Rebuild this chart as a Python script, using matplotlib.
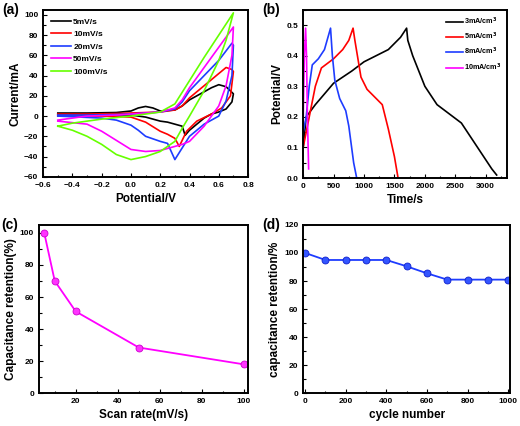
import matplotlib
matplotlib.use("Agg")
import matplotlib.pyplot as plt
from matplotlib.ticker import MultipleLocator

plt.rcParams['font.family'] = ['Liberation Sans', 'DejaVu Sans']
plt.rcParams['font.weight'] = 'bold'

# (a) CV curves: closed loops, forward then reverse sweep
cv_labels = ['5mV/s', '10mV/s', '20mV/s', '50mV/s', '100mV/s']
cv_colors = ['black', '#ff0000', '#1e3cff', '#ff00ff', '#66ff00']
cv_v = [
    [-0.5, -0.3, -0.1, 0.0, 0.05, 0.1, 0.15, 0.2, 0.3, 0.35, 0.4, 0.45, 0.5, 0.55, 0.6, 0.65, 0.7,
     0.69, 0.65, 0.6, 0.55, 0.5, 0.45, 0.4, 0.37, 0.35, 0.3, 0.25, 0.2, 0.1, 0.0, -0.2, -0.5],
    [-0.5, -0.3, -0.1, 0.0, 0.1, 0.2, 0.3, 0.35, 0.4, 0.5, 0.6, 0.65, 0.69, 0.7,
     0.68, 0.62, 0.55, 0.45, 0.38, 0.33, 0.3, 0.25, 0.2, 0.1, 0.0, -0.2, -0.5],
    [-0.5, -0.3, -0.1, 0.0, 0.1, 0.2, 0.3, 0.35, 0.4, 0.5, 0.6, 0.69, 0.7,
     0.69, 0.65, 0.6, 0.5, 0.4, 0.3, 0.25, 0.2, 0.1, 0.05, 0.0, -0.1, -0.2, -0.5],
    [-0.5, -0.3, -0.1, 0.0, 0.1, 0.2, 0.3, 0.35, 0.4, 0.5, 0.6, 0.7,
     0.69, 0.65, 0.6, 0.5, 0.4, 0.35, 0.3, 0.2, 0.1, 0.0, -0.1, -0.2, -0.3, -0.5],
    [-0.5, -0.4, -0.2, 0.0, 0.2, 0.3, 0.4, 0.5, 0.6, 0.7,
     0.65, 0.6, 0.5, 0.4, 0.35, 0.3, 0.2, 0.1, 0.0, -0.1, -0.2, -0.3, -0.4, -0.5],
]
cv_i = [
    [3, 3, 3.5, 5, 8, 9.5, 8, 5, 6, 10, 16, 20, 24, 28, 31, 29, 22,
     14, 7, 4, 2, -2, -8, -14, -19, -10, -8, -6, -5, -1, 1, 1.5, 1.5],
    [2, 2, 2.5, 3, 3.5, 4, 6, 10, 18, 30, 42, 48, 46, 44,
     20, 8, 2, -5, -15, -30, -22, -18, -15, -6, -1, 0, 0],
    [1, 1, 1.5, 2, 3, 4, 7, 14, 25, 40, 55, 72, 70,
     40, 15, 0, -8, -20, -43, -27, -25, -20, -14, -9, -4, -2, 0],
    [-4, 0, 1, 2, 3, 4, 8, 16, 28, 48, 68, 88,
     60, 30, 10, -10, -25, -28, -30, -34, -35, -33, -24, -15, -8, -5],
    [-10, -7, -3, 0, 4, 12, 35, 58, 80, 102,
     75, 55, 25, 0, -12, -25, -35, -40, -43, -38, -28, -20, -14, -10],
]

# (b) GCD curves
gcd_labels = ['3mA/cm$^3$', '5mA/cm$^3$', '8mA/cm$^3$', '10mA/cm$^3$']
gcd_colors = ['black', '#ff0000', '#1e3cff', '#ff00ff']
gcd_t = [
    [0, 50, 200, 500, 800, 1000, 1200, 1400, 1600, 1700, 1720, 1800, 2000, 2200, 2400, 2600, 2700, 2900, 3100, 3180],
    [0, 100, 200, 300, 500, 650, 750, 820, 850, 950, 1050, 1150, 1300, 1400, 1500, 1560],
    [0, 50, 100, 150, 250, 350, 450, 480, 520, 600, 700, 750, 830, 880],
    [0, 10, 20, 40, 55, 70, 90],
]
gcd_v = [
    [0.1, 0.2, 0.24, 0.31, 0.35, 0.38, 0.4, 0.42, 0.46, 0.49, 0.45, 0.4, 0.3, 0.24, 0.21, 0.18, 0.15, 0.09, 0.03, 0.01],
    [0.1, 0.2, 0.3, 0.36, 0.39, 0.42, 0.45, 0.49, 0.45, 0.33, 0.29, 0.27, 0.24, 0.16, 0.07, 0.0],
    [0.15, 0.2, 0.3, 0.37, 0.39, 0.42, 0.49, 0.4, 0.32, 0.26, 0.22, 0.17, 0.05, 0.0],
    [0.18, 0.3, 0.4, 0.49, 0.4, 0.2, 0.03],
]

# (c) rate capability
scan_rate = [5, 10, 20, 50, 100]
retention_rate = [100, 70, 51, 28.5, 18]

# (d) cycling
cycles = [0, 100, 200, 300, 400, 500, 600, 700, 800, 900, 1000]
retention_cyc = [100, 95, 95, 95, 95, 90.5, 85.5, 81, 81, 81, 81]

fig = plt.figure(figsize=(5.2, 4.26), dpi=100)
ax_a = fig.add_axes([0.083, 0.585, 0.394, 0.392])
ax_b = fig.add_axes([0.583, 0.582, 0.392, 0.395])
ax_c = fig.add_axes([0.075, 0.077, 0.402, 0.395])
ax_d = fig.add_axes([0.583, 0.077, 0.398, 0.395])


def style(ax, xlabel, ylabel, tag, tag_x):
    for s in ax.spines.values():
        s.set_linewidth(1.4)
    ax.tick_params(which='both', direction='in', labelsize=6, width=0.8)
    ax.tick_params(which='major', length=3)
    ax.tick_params(which='minor', length=1.8)
    ax.set_xlabel(xlabel, fontsize=8.5, fontweight='bold', labelpad=3)
    ax.set_ylabel(ylabel, fontsize=8.5, fontweight='bold', labelpad=2)
    ax.text(tag_x, 1.0, tag, transform=ax.transAxes, fontsize=10, fontweight='bold',
            va='center', ha='left')


for v, i, c, lab in zip(cv_v, cv_i, cv_colors, cv_labels):
    ax_a.plot(v, i, color=c, lw=1.2, label=lab)
ax_a.set_xlim(-0.6, 0.8)
ax_a.set_ylim(-60, 105)
ax_a.xaxis.set_major_locator(MultipleLocator(0.2))
ax_a.xaxis.set_minor_locator(MultipleLocator(0.1))
ax_a.yaxis.set_major_locator(MultipleLocator(20))
ax_a.yaxis.set_minor_locator(MultipleLocator(10))
ax_a.legend(loc='upper left', frameon=False, fontsize=6, handlelength=2.4,
            labelspacing=0.55, borderaxespad=0.6, handletextpad=0.2)
style(ax_a, 'Potential/V', 'Current/mA', '(a)', -0.2)

for t, v, c, lab in zip(gcd_t, gcd_v, gcd_colors, gcd_labels):
    ax_b.plot(t, v, color=c, lw=1.2, label=lab)
ax_b.set_xlim(0, 3350)
ax_b.set_ylim(0, 0.55)
ax_b.xaxis.set_major_locator(MultipleLocator(500))
ax_b.xaxis.set_minor_locator(MultipleLocator(250))
ax_b.yaxis.set_major_locator(MultipleLocator(0.1))
ax_b.yaxis.set_minor_locator(MultipleLocator(0.05))
ax_b.legend(loc='upper right', frameon=False, fontsize=5.2, handlelength=2.4,
            labelspacing=0.55, borderaxespad=0.4, handletextpad=0.1)
style(ax_b, 'Time/s', 'Potential/V', '(b)', -0.2)

ax_c.plot(scan_rate, retention_rate, color='#ff00ff', lw=1.3, marker='o', ms=5,
          mfc='#ff33ff', mec='#cc00cc', mew=0.6)
ax_c.set_xlim(2.5, 102)
ax_c.set_ylim(0, 105)
ax_c.xaxis.set_major_locator(MultipleLocator(20))
ax_c.xaxis.set_minor_locator(MultipleLocator(10))
ax_c.yaxis.set_major_locator(MultipleLocator(20))
ax_c.yaxis.set_minor_locator(MultipleLocator(10))
style(ax_c, 'Scan rate(mV/s)', 'Capacitance retention(%)', '(c)', -0.18)

ax_d.plot(cycles, retention_cyc, color='#1e3cff', lw=1.3, marker='o', ms=5,
          mfc='#3355ff', mec='#1020cc', mew=0.6)
ax_d.set_xlim(-10, 1010)
ax_d.set_ylim(0, 120)
ax_d.xaxis.set_major_locator(MultipleLocator(200))
ax_d.xaxis.set_minor_locator(MultipleLocator(100))
ax_d.yaxis.set_major_locator(MultipleLocator(20))
ax_d.yaxis.set_minor_locator(MultipleLocator(10))
style(ax_d, 'cycle number', 'capacitance retention/%', '(d)', -0.2)

fig.savefig('out.png', dpi=100)
